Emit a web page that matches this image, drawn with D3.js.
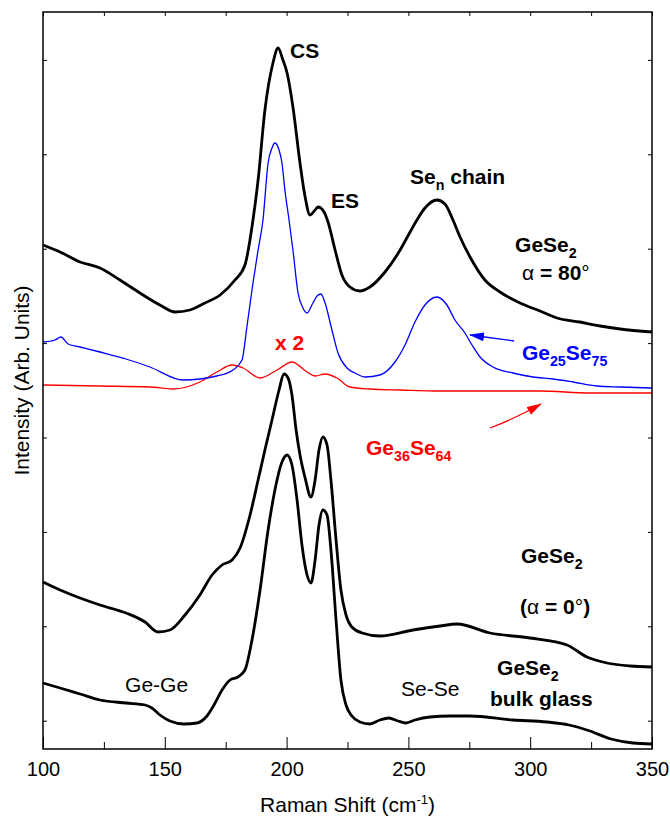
<!DOCTYPE html>
<html lang="en">
<head>
<meta charset="UTF-8" />
<title>Raman spectra of GeSe2 films</title>
<script src="https://cdn.jsdelivr.net/npm/d3@7"></script>
<style>
  body { margin: 0; background: #fff; }
  svg { display: block; }
  text { font-family: "Liberation Sans", Arial, sans-serif; }
</style>
</head>
<body>
<script>
// axis ticks (y is arbitrary units, ticks carry no labels)
const xMajorTicks = [100, 150, 200, 250, 300, 350];
const xMinorTicks = [125, 175, 225, 275, 325];
const yTicks = [28.3, 122.7, 217.1, 311.5, 405.9, 500.3, 594.7, 689.1];

// [Raman shift cm-1, intensity arb. units]
const gese2Alpha80 = [
  [100, 504], [107, 497], [115.2, 487], [123.4, 481], [131.6, 469], [139.8, 456],
  [148, 444], [154.2, 437], [160.3, 439], [166.5, 446], [172.7, 454], [178.8, 469],
  [182.9, 484], [186.2, 529], [188.3, 569], [191.1, 639], [194.4, 686], [196.5, 701],
  [198.5, 689], [200.2, 676], [202.6, 642], [205.5, 586], [207.6, 552], [209.6, 534],
  [211.7, 539], [212.9, 542], [215.4, 537], [217, 527], [219.9, 499], [222.7, 474],
  [226, 462], [230.1, 458], [234.2, 462], [240.4, 477], [246.6, 499], [250.7, 517],
  [253.5, 529], [256.8, 541], [261.7, 549], [265, 545], [268.3, 529], [271.2, 512],
  [275.3, 492], [281.4, 469], [287.6, 457], [295.8, 446], [304, 438], [311, 431],
  [320.4, 427], [328.7, 423], [336.9, 420], [350, 417]
];

const ge25se75 = [
  [100, 407], [104.9, 409], [107.4, 412], [110.3, 405], [115.2, 402], [123.4, 397],
  [134.1, 390], [143.9, 382], [157.5, 369], [171.4, 373], [178, 379], [181.7, 389],
  [183.7, 422], [186.2, 466], [188.3, 499], [190.3, 529], [192.4, 586], [194, 601],
  [195.2, 606], [196.9, 599], [198.1, 586], [199.3, 559], [201, 529], [202.6, 499],
  [204.7, 456], [206.7, 441], [208.4, 436], [210.8, 446], [212.5, 453], [214.1, 455],
  [215.8, 446], [218.6, 419], [221.1, 396], [224.8, 381], [228.1, 376], [232.2, 372],
  [238.3, 374], [244.5, 387], [248.6, 404], [252.7, 427], [256.8, 444], [261.7, 452],
  [265.8, 444], [269.1, 429], [273.2, 416], [276.1, 404], [279.4, 392], [284.7, 382],
  [292.9, 376], [301.1, 372], [309.4, 370], [317.6, 367], [327.4, 363], [336.9, 362],
  [350, 361]
];

const ge36se64x2 = [
  [100, 364], [123.4, 363], [143.9, 362], [153.4, 360], [164.4, 367], [171.4, 377],
  [177.6, 384], [182.1, 381], [189.1, 371], [196.1, 379], [202.2, 387], [208.4, 377],
  [211.7, 373], [215.8, 375], [220.7, 371], [226, 362], [234.2, 360], [246.6, 359],
  [263, 358], [304, 358], [324.5, 356], [350, 356]
];

const gese2Alpha0 = [
  [100, 167], [107, 159], [115.2, 151], [123.4, 144], [134.1, 136], [141.9, 127],
  [147.2, 117], [152.1, 119], [158.3, 134], [164.4, 154], [169.4, 174], [173.5, 184],
  [177.6, 189], [180.9, 201], [185, 234], [188.3, 269], [191.1, 299], [194, 329],
  [196.9, 359], [198.9, 375], [200.6, 371], [202.2, 354], [203.9, 319], [205.5, 294],
  [207.6, 271], [210, 252], [211.7, 269], [213.3, 299], [214.9, 312], [216.6, 304],
  [218.2, 269], [220.3, 209], [222.3, 159], [224.4, 134], [226.8, 122], [231, 116],
  [238.3, 113], [251.9, 119], [263, 123], [270, 125], [283.5, 116], [299.9, 111],
  [315.1, 104], [323.3, 92], [331.5, 86], [341, 83], [350, 82]
];

const gese2Bulk = [
  [100, 66], [107, 61], [115.2, 55], [123.4, 49], [134.1, 46], [141.9, 44],
  [144.7, 41], [148, 34], [152.1, 28], [157.9, 25], [163.2, 26], [167.3, 33],
  [170.2, 44], [173.5, 59], [176.8, 69], [180, 72], [182.9, 79], [185.8, 109],
  [189.1, 159], [192.4, 219], [195.2, 259], [198.1, 287], [200.2, 294], [202.2, 284],
  [204.3, 249], [206.3, 204], [208.4, 174], [210, 166], [211.7, 189], [213.3, 224],
  [214.9, 239], [216.6, 234], [218.2, 199], [220.3, 129], [222.3, 69], [224.4, 44],
  [226.8, 33], [230.1, 27], [234.2, 25], [238.3, 29], [242, 31], [245.7, 28],
  [249, 26], [252.7, 29], [258.9, 32], [267.1, 33], [275.3, 33], [292.9, 29],
  [306.9, 27], [315.9, 24], [324.5, 18], [333.2, 10], [342.2, 6], [350, 5]
];

const W = 670, H = 818;
const svg = d3.select("body").append("svg").attr("width", W).attr("height", H);

const x = d3.scaleLinear().domain([100, 350]).range([43, 652]);
const y = d3.scaleLinear().domain([0, 737]).range([749, 12]);

// ticks, all pointing inward
svg.append("g")
  .attr("transform", `translate(0,${y(0)})`)
  .call(d3.axisBottom(x).tickValues(xMajorTicks).tickSize(-12).tickPadding(13).tickFormat(d3.format("d")))
  .call(g => g.select(".domain").remove())
  .call(g => g.selectAll("text").attr("font-size", 20).attr("font-family", "Liberation Sans, Arial, sans-serif"));
svg.append("g")
  .attr("transform", `translate(0,${y(0)})`)
  .call(d3.axisBottom(x).tickValues(xMinorTicks).tickSize(-7).tickFormat(""))
  .call(g => g.select(".domain").remove());
svg.append("g")
  .attr("transform", `translate(0,${y(737)})`)
  .call(d3.axisTop(x).tickValues(xMajorTicks.concat(xMinorTicks)).tickSize(-4).tickFormat(""))
  .call(g => g.select(".domain").remove());
svg.append("g")
  .attr("transform", `translate(${x(100)},0)`)
  .call(d3.axisLeft(y).tickValues(yTicks).tickSize(-4).tickFormat(""))
  .call(g => g.select(".domain").remove());
svg.append("g")
  .attr("transform", `translate(${x(350)},0)`)
  .call(d3.axisRight(y).tickValues(yTicks).tickSize(-4).tickFormat(""))
  .call(g => g.select(".domain").remove());

// spectra
const line = d3.line()
  .x(d => x(d[0]))
  .y(d => y(d[1]))
  .curve(d3.curveMonotoneX);

const spectra = [
  { data: ge36se64x2, color: "#ff0000", width: 1.3 },
  { data: ge25se75, color: "#0000ff", width: 1.3 },
  { data: gese2Alpha80, color: "#000", width: 2.8 },
  { data: gese2Alpha0, color: "#000", width: 2.8 },
  { data: gese2Bulk, color: "#000", width: 2.8 }
];

svg.append("g").selectAll("path")
  .data(spectra)
  .join("path")
  .attr("d", d => line(d.data))
  .attr("fill", "none")
  .attr("stroke", d => d.color)
  .attr("stroke-width", d => d.width)
  .attr("stroke-linejoin", "round");

// frame
svg.append("rect")
  .attr("x", x(100)).attr("y", y(737))
  .attr("width", x(350) - x(100)).attr("height", y(0) - y(737))
  .attr("fill", "none").attr("stroke", "#000").attr("stroke-width", 1.5);

// labels: parts are [text, kind]; kind: "b" bold, "n" normal, "sub" bold subscript, "sup" superscript
function label(xv, yv, parts, color = "#000", size = 21, anchor = "start") {
  const t = svg.append("text")
    .attr("x", x(xv)).attr("y", y(yv))
    .attr("fill", color).attr("font-size", size)
    .attr("text-anchor", anchor);
  let shift = 0;
  parts.forEach(([s, kind]) => {
    const sp = t.append("tspan").text(s);
    let target = 0;
    if (kind === "sub") { sp.attr("font-size", size * 0.68).attr("font-weight", "bold"); target = 6; }
    else if (kind === "sup") { sp.attr("font-size", size * 0.62); target = -8; }
    else sp.attr("font-weight", kind === "b" ? "bold" : "normal");
    if (target !== shift) { sp.attr("dy", target - shift); shift = target; }
  });
  return t;
}

label(201.4, 691, [["CS", "b"]]);
label(218.2, 541, [["ES", "b"]]);
label(250.7, 565, [["Se", "b"], ["n", "sub"], [" chain", "b"]]);
label(293.8, 497, [["GeSe", "b"], ["2", "sub"]]);
label(296.6, 469, [["\u03b1", "n"], [" = 80", "b"], ["\u00b0", "n"]]);
label(296.6, 389, [["Ge", "b"], ["25", "sub"], ["Se", "b"], ["75", "sub"]], "#0000ff");
label(195.2, 399, [["x 2", "b"]], "#ff0000");
label(232.6, 294, [["Ge", "b"], ["36", "sub"], ["Se", "b"], ["64", "sub"]], "#ff0000");
label(296.2, 186, [["GeSe", "b"], ["2", "sub"]]);
label(295.8, 135, [["(", "b"], ["\u03b1", "n"], [" = 0", "b"], ["\u00b0", "n"], [")", "b"]]);
label(286.4, 74, [["GeSe", "b"], ["2", "sub"]]);
label(283.5, 43, [["bulk glass", "b"]]);
label(247, 53, [["Se-Se", "n"]]);
label(133.7, 57, [["Ge-Ge", "n"]]);

// arrows
const defs = svg.append("defs");
[["blue", "#0000ff"], ["red", "#ff0000"]].forEach(([id, c]) => {
  defs.append("marker")
    .attr("id", "head-" + id)
    .attr("markerUnits", "userSpaceOnUse")
    .attr("markerWidth", 15).attr("markerHeight", 9)
    .attr("refX", 14).attr("refY", 4.5)
    .attr("orient", "auto")
    .append("path").attr("d", "M0,0 L15,4.5 L0,9 Z").attr("fill", c);
});
svg.append("path")
  .attr("d", `M${x(293.4)},${y(408)} L${x(275.3)},${y(414)}`)
  .attr("stroke", "#0000ff").attr("stroke-width", 1.3).attr("fill", "none")
  .attr("marker-end", "url(#head-blue)");
svg.append("path")
  .attr("d", `M${x(283.5)},${y(321)} Q${x(294.3)},${y(331)} ${x(304.4)},${y(345)}`)
  .attr("stroke", "#ff0000").attr("stroke-width", 1.3).attr("fill", "none")
  .attr("marker-end", "url(#head-red)");

// axis titles
const xt = svg.append("text")
  .attr("x", (x(100) + x(350)) / 2).attr("y", 812)
  .attr("text-anchor", "middle").attr("font-size", 21);
xt.append("tspan").text("Raman Shift (cm");
xt.append("tspan").text("-1").attr("font-size", 13).attr("dy", -8);
xt.append("tspan").text(")").attr("dy", 8);

svg.append("text")
  .attr("transform", `translate(29,${(y(0) + y(737)) / 2}) rotate(-90)`)
  .attr("text-anchor", "middle").attr("font-size", 21)
  .text("Intensity (Arb. Units)");
</script>
</body>
</html>
